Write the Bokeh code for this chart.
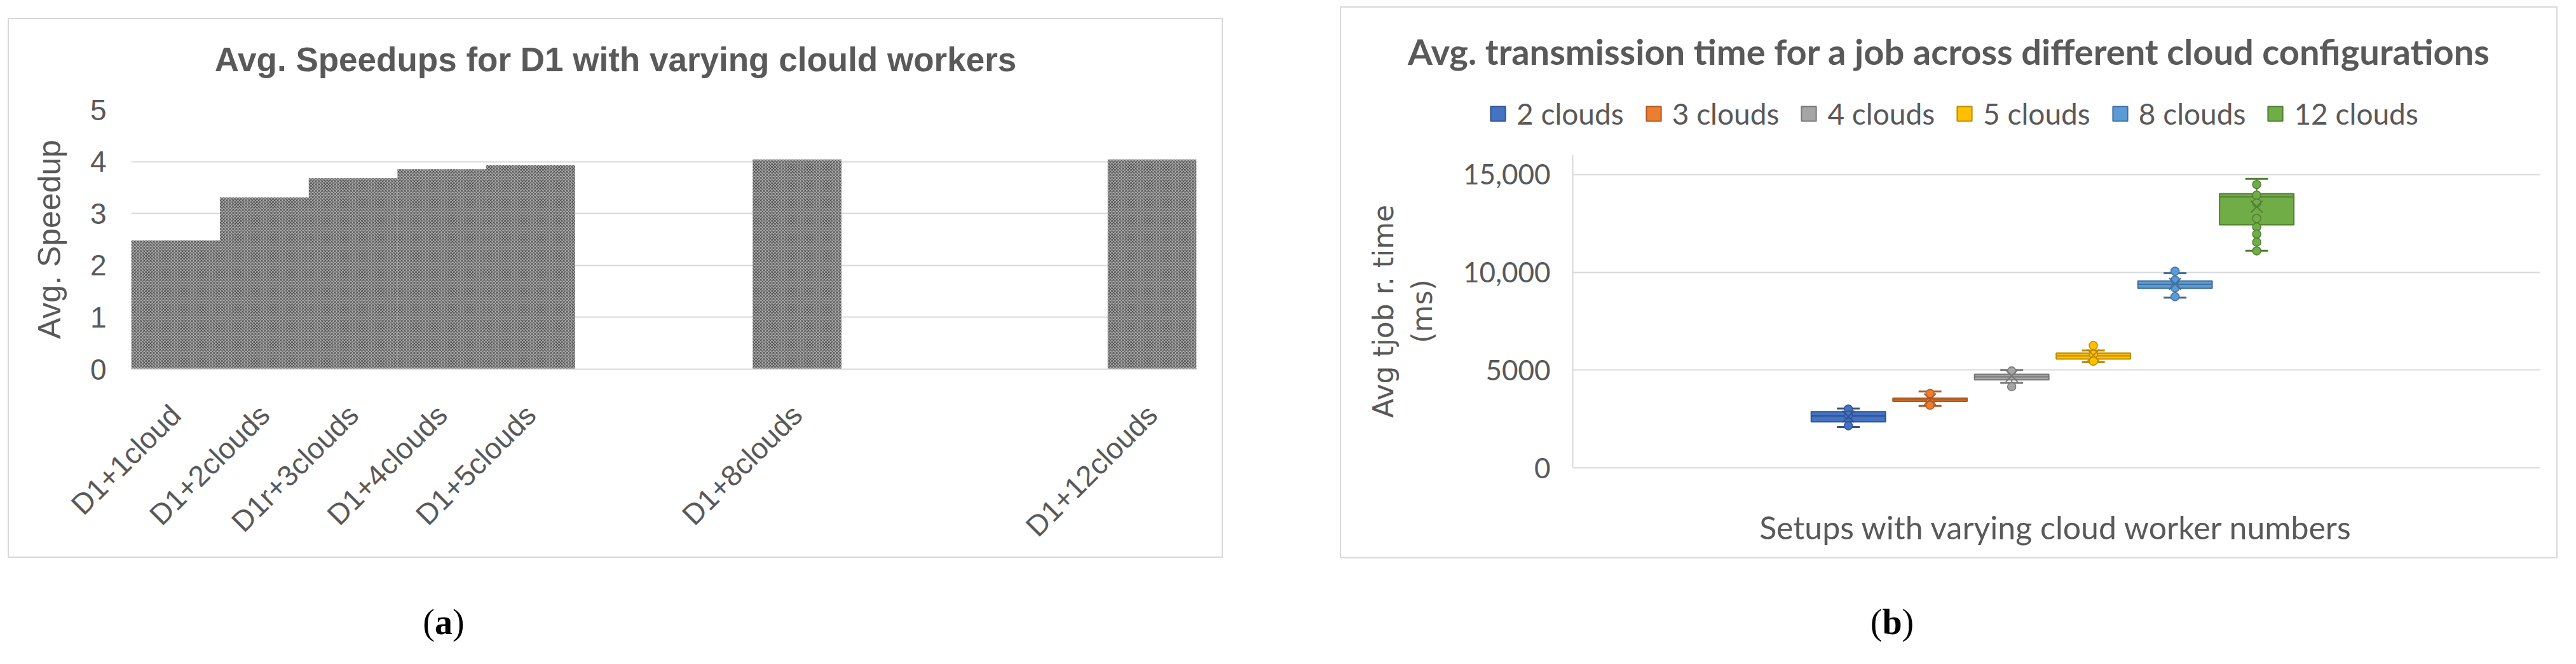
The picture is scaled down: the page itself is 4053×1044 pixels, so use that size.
import math
from bokeh.plotting import figure
from bokeh.models import (ColumnDataSource, FixedTicker, Range1d, Legend, LegendItem, Div, Label)
from bokeh.layouts import row, column
from bokeh.embed import file_html
from bokeh.resources import INLINE

# ---------------- data: panel (a) ----------------
speedup_labels = ["D1+1cloud", "D1+2clouds", "D1r+3clouds", "D1+4clouds",
                  "D1+5clouds", "D1+8clouds", "D1+12clouds"]
cloud_counts = [1, 2, 3, 4, 5, 8, 12]
avg_speedup = [2.48, 3.31, 3.68, 3.85, 3.93, 4.04, 4.04]
speedup_ticks = [0, 1, 2, 3, 4, 5]

# ---------------- data: panel (b) ----------------
series_names = ["2 clouds", "3 clouds", "4 clouds", "5 clouds", "8 clouds", "12 clouds"]
whisker_low = [2080, 3160, 4340, 5400, 8700, 11100]
q1_vals = [2350, 3400, 4500, 5560, 9180, 12420]
median_vals = [2650, 3480, 4650, 5720, 9380, 13850]
q3_vals = [2870, 3560, 4780, 5860, 9550, 14020]
whisker_high = [3030, 3900, 5000, 6000, 9950, 14770]
mean_vals = [2620, 3500, 4700, 5750, 9400, 13350]
points_2 = [3000, 2700, 2150]
points_3 = [3800, 3350, 3200]
points_4 = [4950, 4150]
points_5 = [6250, 5800, 5450]
points_8 = [10050, 9600, 9200, 8750]
points_12 = [14480, 13940, 13540, 12750, 12310, 11950, 11540, 11090]
time_ticks = [0, 5000, 10000, 15000]
time_tick_labels = ["0", "5000", "10,000", "15,000"]

fill_colors = ["#4472C4", "#ED7D31", "#A5A5A5", "#FFC000", "#5B9BD5", "#70AD47"]
line_colors = ["#2F528F", "#AE5A21", "#787878", "#BC8C00", "#41719C", "#507E32"]

TXT = "#595959"
GRID = "#d9d9d9"
BORDER = {"outline": "2px solid #d9d9d9"}


def no_align(p):
    try:
        p.frame_align = False
    except Exception:
        pass


def make_header(width, height):
    h = figure(width=width, height=height, output_backend="svg", toolbar_location=None,
               x_range=Range1d(0, 1), y_range=Range1d(0, 1),
               x_axis_location=None, y_axis_location=None,
               min_border_left=0, min_border_right=0, min_border_top=0, min_border_bottom=0)
    h.outline_line_color = None
    h.grid.visible = False
    no_align(h)
    return h


# ================= panel (a) =================
header_a = make_header(1908, 102)
header_a.add_layout(Label(x=0.5, y=0.385, text="Avg. Speedups for D1 with varying clould workers",
                          text_align="center", text_baseline="alphabetic",
                          text_font="Liberation Sans", text_font_size="53px",
                          text_font_style="bold", text_color=TXT))

p1 = figure(width=1908, height=743, output_backend="svg", toolbar_location=None,
            x_range=Range1d(0.5, 12.5), y_range=Range1d(0, 5),
            min_border_left=192, min_border_right=40, min_border_top=40,
            min_border_bottom=270)
p1.outline_line_color = None
no_align(p1)

src_a = ColumnDataSource(dict(x=cloud_counts, top=avg_speedup))
p1.vbar(x="x", top="top", bottom=0, width=1.0, source=src_a,
        fill_color="#b0b0b0", line_color=None,
        hatch_pattern="x", hatch_color="#555555", hatch_scale=5, hatch_weight=1.2)

p1.xgrid.grid_line_color = None
p1.ygrid.ticker = FixedTicker(ticks=speedup_ticks[1:])
p1.ygrid.grid_line_color = GRID
p1.ygrid.grid_line_width = 2

p1.yaxis.ticker = FixedTicker(ticks=speedup_ticks)
p1.yaxis.axis_line_color = None
p1.yaxis.major_tick_line_color = None
p1.yaxis.minor_tick_line_color = None
p1.yaxis.major_label_text_font = "Liberation Sans"
p1.yaxis.major_label_text_font_size = "46px"
p1.yaxis.major_label_text_color = TXT
p1.yaxis.major_label_standoff = 33
p1.yaxis.axis_label = "Avg. Speedup"
p1.yaxis.axis_label_text_font = "Liberation Sans"
p1.yaxis.axis_label_text_font_size = "50px"
p1.yaxis.axis_label_text_font_style = "normal"
p1.yaxis.axis_label_text_color = TXT
p1.yaxis.axis_label_standoff = 33

p1.xaxis.ticker = FixedTicker(ticks=cloud_counts)
p1.xaxis.major_label_overrides = {c: lab for c, lab in zip(cloud_counts, speedup_labels)}
p1.xaxis.major_label_orientation = math.pi / 4
p1.xaxis.axis_line_color = GRID
p1.xaxis.axis_line_width = 2
p1.xaxis.major_tick_line_color = None
p1.xaxis.minor_tick_line_color = None
p1.xaxis.major_label_text_font = "Liberation Sans"
p1.xaxis.major_label_text_font_size = "46px"
p1.xaxis.major_label_text_color = TXT
p1.xaxis.major_label_standoff = 58

# ================= panel (b): header with title + legend =================
header_b = make_header(1912, 231)
header_b.add_layout(Label(x=0.5, y=0.705,
                          text="Avg. transmission time for a job across different cloud configurations",
                          text_align="center", text_baseline="alphabetic",
                          text_font="Lato", text_font_size="56px",
                          text_font_style="bold", text_color=TXT))

legend_items = []
for i, name in enumerate(series_names):
    # legend proxies: the series' box, hidden so nothing is drawn inside the header
    proxy_src = ColumnDataSource(dict(x=[i], top=[q3_vals[i]], bottom=[q1_vals[i]]))
    r = header_b.vbar(x="x", top="top", bottom="bottom", width=1, source=proxy_src,
                      fill_color=fill_colors[i], line_color=line_colors[i], line_width=2)
    r.visible = False
    legend_items.append(LegendItem(label=name, renderers=[r]))
legend = Legend(items=legend_items, orientation="horizontal", location=(232, 37),
                label_text_font="Lato", label_text_font_size="46px", label_text_color=TXT,
                glyph_width=29, glyph_height=29, label_standoff=15, spacing=32,
                border_line_color=None, background_fill_alpha=0, padding=0, margin=0,
                inactive_fill_alpha=0)
header_b.add_layout(legend, "center")

# ================= panel (b): main box plot =================
p2 = figure(width=1912, height=633, output_backend="svg", toolbar_location=None,
            x_range=Range1d(-3.375, 8.47), y_range=Range1d(0, 16000),
            min_border_left=364, min_border_right=26, min_border_top=0,
            min_border_bottom=141)
p2.outline_line_color = None
no_align(p2)

p2.xgrid.grid_line_color = None
p2.ygrid.ticker = FixedTicker(ticks=time_ticks[1:])
p2.ygrid.grid_line_color = GRID
p2.ygrid.grid_line_width = 2

p2.yaxis.ticker = FixedTicker(ticks=time_ticks)
p2.yaxis.major_label_overrides = {t: lab for t, lab in zip(time_ticks, time_tick_labels)}
p2.yaxis.axis_line_color = GRID
p2.yaxis.axis_line_width = 2
p2.yaxis.major_tick_line_color = None
p2.yaxis.minor_tick_line_color = None
p2.yaxis.major_label_text_font = "Lato"
p2.yaxis.major_label_text_font_size = "44px"
p2.yaxis.major_label_text_color = TXT
p2.yaxis.major_label_standoff = 29
p2.yaxis.axis_label = "Avg tjob r. time\n(ms)"
p2.yaxis.axis_label_text_font = "DejaVu Sans"
p2.yaxis.axis_label_text_font_size = "44px"
p2.yaxis.axis_label_text_font_style = "normal"
p2.yaxis.axis_label_text_color = TXT
p2.yaxis.axis_label_standoff = 36

p2.xaxis.ticker = FixedTicker(ticks=[])
p2.xaxis.axis_line_color = GRID
p2.xaxis.axis_line_width = 2
p2.xaxis.major_tick_line_color = None
p2.xaxis.minor_tick_line_color = None
p2.xaxis.axis_label = "Setups with varying cloud worker numbers"
p2.xaxis.axis_label_text_font = "Lato"
p2.xaxis.axis_label_text_font_size = "50px"
p2.xaxis.axis_label_text_font_style = "normal"
p2.xaxis.axis_label_text_color = TXT
p2.xaxis.axis_label_standoff = 63

all_points = [points_2, points_3, points_4, points_5, points_8, points_12]
box_w = 0.91
cap_half = 0.14
for i, name in enumerate(series_names):
    fc, lc = fill_colors[i], line_colors[i]
    src = ColumnDataSource(dict(
        x=[i], q1=[q1_vals[i]], q3=[q3_vals[i]], med=[median_vals[i]],
        lo=[whisker_low[i]], hi=[whisker_high[i]], mean=[mean_vals[i]],
        x0=[i - box_w / 2], x1=[i + box_w / 2],
        c0=[i - cap_half], c1=[i + cap_half]))
    p2.segment(x0="x", y0="q3", x1="x", y1="hi", source=src, line_color=lc, line_width=2)
    p2.segment(x0="x", y0="q1", x1="x", y1="lo", source=src, line_color=lc, line_width=2)
    p2.segment(x0="c0", y0="hi", x1="c1", y1="hi", source=src, line_color=lc, line_width=3)
    p2.segment(x0="c0", y0="lo", x1="c1", y1="lo", source=src, line_color=lc, line_width=3)
    p2.vbar(x="x", top="q3", bottom="q1", width=box_w, source=src,
            fill_color=fc, line_color=lc, line_width=2)
    p2.segment(x0="x0", y0="med", x1="x1", y1="med", source=src, line_color=lc, line_width=2)
    pts = all_points[i]
    p2.scatter(x=[i] * len(pts), y=pts, marker="circle", size=13,
               fill_color=fc, line_color=lc, line_width=1.5)
    p2.scatter(x="x", y="mean", source=src, marker="x", size=26, line_color=lc, line_width=2)

# ================= captions =================
cap_style = {"font-family": "Liberation Serif", "font-size": "56px", "color": "black",
             "text-align": "center", "line-height": "66px"}
cap_a = Div(text="(<b>a</b>)", width=200, height=70, styles=cap_style,
            margin=(70, 0, 0, 584))
cap_b = Div(text="(<b>b</b>)", width=200, height=70, styles=cap_style,
            margin=(69, 0, 0, 767))

box_a = column(column(header_a), p1, styles=BORDER)
box_b = column(column(header_b), p2, styles=BORDER)
col_a = column(box_a, cap_a, margin=(30, 0, 0, 14))
col_b = column(box_b, cap_b, margin=(12, 0, 0, 188))
layout = row(col_a, col_b)

open("out.html", "w").write(file_html(layout, INLINE))
